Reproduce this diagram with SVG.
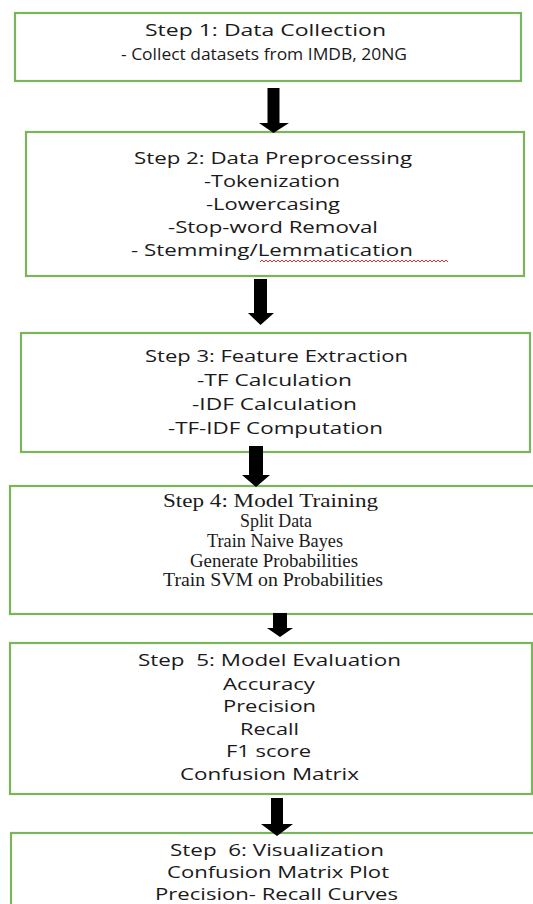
<svg xmlns="http://www.w3.org/2000/svg" width="533" height="904" viewBox="0 0 533 904">
<style>
.box{fill:#ffffff;stroke:#7ab55c;stroke-width:2.2}
.t{font-family:"Open Sans","DejaVu Sans",sans-serif;font-size:16.5px;fill:#1a1a1a;text-anchor:middle}
.s{font-family:"Liberation Serif","Times New Roman",serif;font-size:19px;fill:#1a1a1a;text-anchor:middle}
.arr{fill:#000}
</style>
<rect x="0" y="0" width="533" height="904" fill="#ffffff"/>
<g id="step1">
<rect class="box" x="15" y="13" width="506" height="68"/>
<text class="t" x="265.5" y="36" textLength="241" lengthAdjust="spacingAndGlyphs">Step 1: Data Collection</text>
<text class="t" x="264" y="60" textLength="286" lengthAdjust="spacingAndGlyphs">- Collect datasets from IMDB, 20NG</text>
</g>
<g id="step2">
<rect class="box" x="26" y="132" width="498" height="144"/>
<text class="t" x="273" y="164" textLength="278" lengthAdjust="spacingAndGlyphs">Step 2: Data Preprocessing</text>
<text class="t" x="272" y="187" textLength="136" lengthAdjust="spacingAndGlyphs">-Tokenization</text>
<text class="t" x="273" y="210" textLength="134" lengthAdjust="spacingAndGlyphs">-Lowercasing</text>
<text class="t" x="273" y="233" textLength="210" lengthAdjust="spacingAndGlyphs">-Stop-word Removal</text>
<text class="t" x="272" y="256" textLength="282" lengthAdjust="spacingAndGlyphs">- Stemming/Lemmatication</text>
<path d="M260 262 l2 -2 l2 2 l2 -2 l2 2 l2 -2 l2 2 l2 -2 l2 2 l2 -2 l2 2 l2 -2 l2 2 l2 -2 l2 2 l2 -2 l2 2 l2 -2 l2 2 l2 -2 l2 2 l2 -2 l2 2 l2 -2 l2 2 l2 -2 l2 2 l2 -2 l2 2 l2 -2 l2 2 l2 -2 l2 2 l2 -2 l2 2 l2 -2 l2 2 l2 -2 l2 2 l2 -2 l2 2 l2 -2 l2 2 l2 -2 l2 2 l2 -2 l2 2 l2 -2 l2 2 l2 -2 l2 2 l2 -2 l2 2 l2 -2 l2 2 l2 -2 l2 2 l2 -2 l2 2 l2 -2 l2 2 l2 -2 l2 2 l2 -2 l2 2 l2 -2 l2 2 l2 -2 l2 2 l2 -2 l2 2 l2 -2 l2 2 l2 -2 l2 2 l2 -2 l2 2 l2 -2 l2 2 l2 -2 l2 2 l2 -2 l2 2 l2 -2 l2 2 l2 -2 l2 2 l2 -2 l2 2 l2 -2 l2 2 l2 -2 l2 2 l2 -2 l2 2" fill="none" stroke="#e03030" stroke-width="1"/>
</g>
<g id="step3">
<rect class="box" x="21" y="333" width="509" height="119"/>
<text class="t" x="276.5" y="362" textLength="263" lengthAdjust="spacingAndGlyphs">Step 3: Feature Extraction</text>
<text class="t" x="274.5" y="386" textLength="155" lengthAdjust="spacingAndGlyphs">-TF Calculation</text>
<text class="t" x="274.5" y="410" textLength="165" lengthAdjust="spacingAndGlyphs">-IDF Calculation</text>
<text class="t" x="275.5" y="434" textLength="215" lengthAdjust="spacingAndGlyphs">-TF-IDF Computation</text>
</g>
<g id="step4">
<rect class="box" x="10" y="486" width="532" height="128"/>
<text class="s" x="270.5" y="507" textLength="215" lengthAdjust="spacingAndGlyphs">Step 4: Model Training</text>
<text class="s" x="276" y="527" textLength="72" lengthAdjust="spacingAndGlyphs">Split Data</text>
<text class="s" x="275" y="547" textLength="136" lengthAdjust="spacingAndGlyphs">Train Naive Bayes</text>
<text class="s" x="274" y="567" textLength="168" lengthAdjust="spacingAndGlyphs">Generate Probabilities</text>
<text class="s" x="273" y="586" textLength="220" lengthAdjust="spacingAndGlyphs">Train SVM on Probabilities</text>
</g>
<g id="step5">
<rect class="box" x="10" y="643" width="522" height="151"/>
<text class="t" x="269.5" y="666" textLength="263" lengthAdjust="spacingAndGlyphs" xml:space="preserve">Step  5: Model Evaluation</text>
<text class="t" x="269" y="690" textLength="92" lengthAdjust="spacingAndGlyphs">Accuracy</text>
<text class="t" x="269.5" y="712" textLength="93" lengthAdjust="spacingAndGlyphs">Precision</text>
<text class="t" x="269.5" y="735" textLength="59" lengthAdjust="spacingAndGlyphs">Recall</text>
<text class="t" x="268.5" y="757" textLength="85" lengthAdjust="spacingAndGlyphs">F1 score</text>
<text class="t" x="269.5" y="780" textLength="179" lengthAdjust="spacingAndGlyphs">Confusion Matrix</text>
</g>
<g id="step6">
<rect class="box" x="11" y="833" width="532" height="100"/>
<text class="t" x="277" y="856" textLength="214" lengthAdjust="spacingAndGlyphs" xml:space="preserve">Step  6: Visualization</text>
<text class="t" x="278" y="878" textLength="222" lengthAdjust="spacingAndGlyphs">Confusion Matrix Plot</text>
<text class="t" x="276.5" y="900" textLength="243" lengthAdjust="spacingAndGlyphs">Precision- Recall Curves</text>
</g>
<g id="connectors">
<path class="arr" d="M267.5 88 H279.5 V123 H289 L273.5 133 L259 123 H267.5 Z"/>
<path class="arr" d="M254 279 H267 V313 H274 L260.5 325 L248 313 H254 Z"/>
<path class="arr" d="M249 446 H263 V475 H270 L256 487 L242 475 H249 Z"/>
<path class="arr" d="M273 613 H287 V628 H293 L280 637 L267 628 H273 Z"/>
<path class="arr" d="M271 798 H283 V824 H293 L277 836 L261 824 H271 Z"/>
</g>
</svg>
